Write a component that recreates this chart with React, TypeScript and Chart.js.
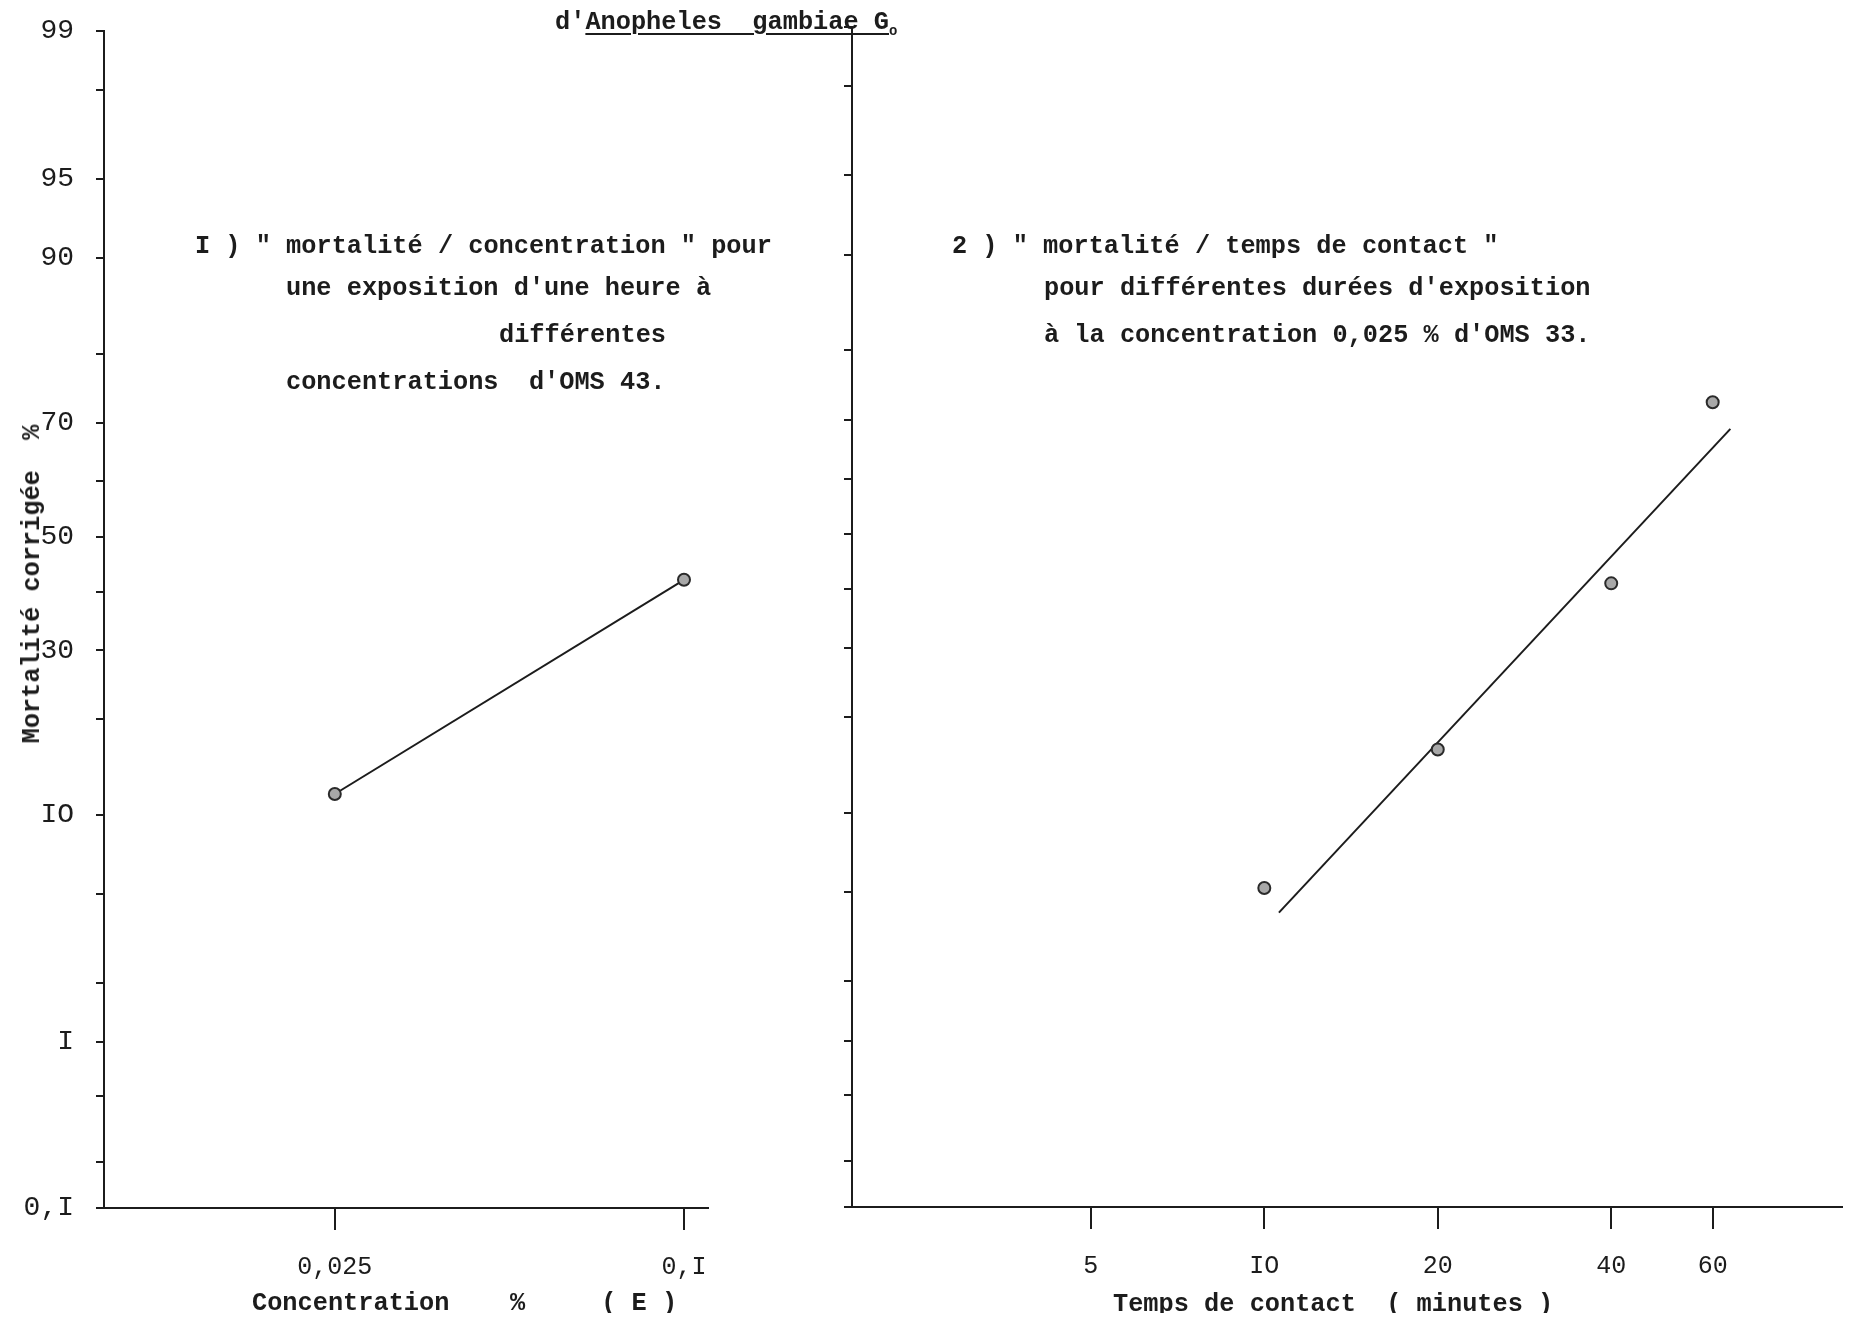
import React, { useEffect, useRef } from 'react';
import { Chart, registerables, LinearScale } from 'chart.js';

Chart.register(...registerables);

// ---------------- data ----------------
const concentrations = [0.025, 0.1];
const mortalityByConcentration = [11.8, 42.1];

const contactTimes = [10, 20, 40, 60];
const mortalityByTime = [5.2, 16.1, 41.0, 72.7];

const fitTimes = [10.6, 64.4];
const fitMortality = [4.1, 68.5];

const probitTickValues = [0.1, 0.2, 0.5, 1, 2, 5, 10, 20, 30, 40, 50, 60, 70, 80, 90, 95, 98, 99];
const probitLabelValues = [0.1, 1, 10, 30, 50, 70, 90, 95, 99];
const probitLabelTexts = ['0,I', 'I', 'IO', '30', '50', '70', '90', '95', '99'];

const concentrationTicks = [0.025, 0.1];
const concentrationTickLabels = ['0,025', '0,I'];

const timeTicks = [5, 10, 20, 40, 60];
const timeTickLabels = ['5', 'IO', '20', '40', '60'];

const pageTitlePrefix = "d'";
const pageTitleUnderlined = 'Anopheles  gambiae G';
const pageTitleSub = 'o';
const leftNote = [
  'I ) " mortalité / concentration " pour',
  "une exposition d'une heure à",
  'différentes',
  "concentrations  d'OMS 43.",
];
const rightNote = [
  '2 ) " mortalité / temps de contact "',
  "pour différentes durées d'exposition",
  "à la concentration 0,025 % d'OMS 33.",
];
const yTitle = 'Mortalité corrigée  %';
const leftXTitle = 'Concentration    %     ( E )';
const rightXTitle = 'Temps de contact  ( minutes )';

// ---------------- probit scale ----------------
function probit(p: number): number {
  const a = [-3.969683028665376e1, 2.209460984245205e2, -2.759285104469687e2, 1.38357751867269e2, -3.066479806614716e1, 2.506628277459239];
  const b = [-5.447609879822406e1, 1.615858368580409e2, -1.556989798598866e2, 6.680131188771972e1, -1.328068155288572e1];
  const c = [-7.784894002430293e-3, -3.223964580411365e-1, -2.400758277161838, -2.549732539343734, 4.374664141464968, 2.938163982698783];
  const d = [7.784695709041462e-3, 3.224671290700398e-1, 2.445134137142996, 3.754408661907416];
  const pl = 0.02425;
  if (p <= 0) return -8;
  if (p >= 1) return 8;
  let q: number, r: number;
  if (p < pl) {
    q = Math.sqrt(-2 * Math.log(p));
    return (((((c[0] * q + c[1]) * q + c[2]) * q + c[3]) * q + c[4]) * q + c[5]) / ((((d[0] * q + d[1]) * q + d[2]) * q + d[3]) * q + 1);
  }
  if (p <= 1 - pl) {
    q = p - 0.5;
    r = q * q;
    return ((((((a[0] * r + a[1]) * r + a[2]) * r + a[3]) * r + a[4]) * r + a[5]) * q) / (((((b[0] * r + b[1]) * r + b[2]) * r + b[3]) * r + b[4]) * r + 1);
  }
  q = Math.sqrt(-2 * Math.log(1 - p));
  return -(((((c[0] * q + c[1]) * q + c[2]) * q + c[3]) * q + c[4]) * q + c[5]) / ((((d[0] * q + d[1]) * q + d[2]) * q + d[3]) * q + 1);
}

function normCdf(z: number): number {
  const x = Math.abs(z) / Math.SQRT2;
  const t = 1 / (1 + 0.3275911 * x);
  const y = 1 - ((((1.061405429 * t - 1.453152027) * t + 1.421413741) * t - 0.284496736) * t + 0.254829592) * t * Math.exp(-x * x);
  return z >= 0 ? 0.5 * (1 + y) : 0.5 * (1 - y);
}

class ProbitScale extends (LinearScale as any) {
  static id = 'probit';
  static defaults = {};
  buildTicks() {
    return probitTickValues.filter((v) => v >= this.min && v <= this.max).map((v) => ({ value: v }));
  }
  configure() {
    super.configure();
    this._pStart = probit(this.min / 100);
    this._pRange = probit(this.max / 100) - this._pStart;
  }
  getPixelForValue(value: number) {
    if (value === null || value === undefined || isNaN(value)) return NaN;
    return this.getPixelForDecimal((probit(value / 100) - this._pStart) / this._pRange);
  }
  getValueForPixel(pixel: number) {
    return 100 * normCdf(this._pStart + this.getDecimalForPixel(pixel) * this._pRange);
  }
}
Chart.register(ProbitScale as any);

// ---------------- styling ----------------
const INK = '#1c1c1c';
const MONO = '"Liberation Mono", "DejaVu Sans Mono", monospace';
Chart.defaults.font.family = MONO;
Chart.defaults.color = INK;

const W = 1835;
const H = 1313;
const LEFT_W = 770;
const RIGHT_W = W - LEFT_W;

const pointStyle = {
  pointRadius: 6,
  pointHoverRadius: 6,
  pointBackgroundColor: '#a8a8a8',
  pointBorderColor: '#2a2a2a',
  pointBorderWidth: 2,
};

function noScalePadding(s: any) {
  s.paddingTop = 0;
  s.paddingBottom = 0;
  s.paddingLeft = 0;
  s.paddingRight = 0;
}

function yAxis(withLabels: boolean, width: number) {
  return {
    type: 'probit',
    position: 'left',
    min: 0.1,
    max: 99,
    afterFit: (s: any) => {
      s.width = width;
      noScalePadding(s);
    },
    ticks: {
      autoSkip: false,
      padding: 22,
      font: { family: MONO, size: 28 },
      color: INK,
      callback: (v: number) => {
        if (!withLabels) return '';
        const i = probitLabelValues.indexOf(v);
        return i >= 0 ? probitLabelTexts[i] : '';
      },
    },
    grid: {
      display: true,
      drawOnChartArea: false,
      drawTicks: true,
      tickLength: 8,
      tickColor: INK,
      tickWidth: 2,
      color: INK,
      lineWidth: 2,
    },
    border: { display: true, color: INK, width: 2 },
  };
}

function xAxis(min: number, max: number, values: number[], labels: string[], height: number) {
  return {
    type: 'logarithmic',
    position: 'bottom',
    min,
    max,
    bounds: 'data',
    afterBuildTicks: (s: any) => {
      s.ticks = values.map((v) => ({ value: v }));
    },
    afterFit: (s: any) => {
      s.height = height;
      noScalePadding(s);
    },
    ticks: {
      autoSkip: false,
      maxRotation: 0,
      minRotation: 0,
      padding: 22,
      font: { family: MONO, size: 25 },
      color: INK,
      callback: (_v: number, i: number) => labels[i],
    },
    grid: {
      display: true,
      drawOnChartArea: false,
      drawTicks: true,
      tickLength: 22,
      tickColor: INK,
      tickWidth: 2,
      color: INK,
      lineWidth: 2,
    },
    border: { display: true, color: INK, width: 2 },
  };
}

function leftConfig(): any {
  return {
    type: 'scatter',
    data: {
      datasets: [
        {
          label: 'mortalité / concentration',
          data: concentrations.map((x, i) => ({ x, y: mortalityByConcentration[i] })),
          showLine: true,
          borderColor: INK,
          borderWidth: 2,
          ...pointStyle,
        },
      ],
    },
    options: {
      responsive: false,
      animation: false,
      events: [],
      layout: { autoPadding: false, padding: { top: 23, right: 70, left: 0, bottom: 0 } },
      plugins: { legend: { display: false }, tooltip: { enabled: false }, title: { display: false } },
      scales: {
        x: xAxis(0.01, 0.11, concentrationTicks, concentrationTickLabels, H - 1200),
        y: yAxis(true, 96),
      },
    },
  };
}

function rightConfig(): any {
  return {
    type: 'scatter',
    data: {
      datasets: [
        {
          label: 'mortalité / temps de contact',
          data: contactTimes.map((x, i) => ({ x, y: mortalityByTime[i] })),
          showLine: false,
          ...pointStyle,
        },
        {
          label: 'droite',
          data: fitTimes.map((x, i) => ({ x, y: fitMortality[i] })),
          showLine: true,
          borderColor: INK,
          borderWidth: 2,
          pointRadius: 0,
        },
      ],
    },
    options: {
      responsive: false,
      animation: false,
      events: [],
      layout: { autoPadding: false, padding: { top: 19, right: 0, left: 0, bottom: 0 } },
      plugins: { legend: { display: false }, tooltip: { enabled: false }, title: { display: false } },
      scales: {
        x: xAxis(1.925, 101, timeTicks, timeTickLabels, H - 1199),
        y: yAxis(false, 74),
      },
    },
  };
}

const textBase: React.CSSProperties = {
  position: 'absolute',
  fontFamily: MONO,
  fontWeight: 'bold',
  fontSize: '25.3px',
  lineHeight: '30px',
  whiteSpace: 'pre',
  color: INK,
  margin: 0,
};

export default function App() {
  const leftRef = useRef<HTMLCanvasElement>(null);
  const rightRef = useRef<HTMLCanvasElement>(null);

  useEffect(() => {
    const c1 = new Chart(leftRef.current as HTMLCanvasElement, leftConfig());
    const c2 = new Chart(rightRef.current as HTMLCanvasElement, rightConfig());
    return () => {
      c1.destroy();
      c2.destroy();
    };
  }, []);

  const leftX = [187, 278, 491, 278];
  const leftY = [224, 266, 313, 360];
  const rightX = [944, 1036, 1036];
  const rightY = [224, 266, 313];

  return (
    <div style={{ position: 'relative', width: W, height: H, marginBottom: -8, background: '#fff', overflow: 'hidden' }}>
      <canvas
        ref={leftRef}
        width={LEFT_W}
        height={H}
        style={{ position: 'absolute', left: 0, top: 0, width: LEFT_W, height: H }}
      />
      <canvas
        ref={rightRef}
        width={RIGHT_W}
        height={H}
        style={{ position: 'absolute', left: LEFT_W, top: 0, width: RIGHT_W, height: H }}
      />
      <div style={{ ...textBase, left: 547, top: 0 }}>
        {pageTitlePrefix}
        <span style={{ textDecoration: 'underline', textDecorationThickness: '2px', textUnderlineOffset: '4px' }}>
          {pageTitleUnderlined}
          <sub style={{ fontSize: '14px' }}>{pageTitleSub}</sub>
        </span>
      </div>
      {leftNote.map((t, i) => (
        <div key={'l' + i} style={{ ...textBase, left: leftX[i], top: leftY[i] }}>
          {t}
        </div>
      ))}
      {rightNote.map((t, i) => (
        <div key={'r' + i} style={{ ...textBase, left: rightX[i], top: rightY[i] }}>
          {t}
        </div>
      ))}
      <div
        style={{
          ...textBase,
          left: 25,
          top: 576,
          transform: 'translate(-50%, -50%) rotate(-90deg)',
        }}
      >
        {yTitle}
      </div>
      <div style={{ ...textBase, lineHeight: '25px', left: 244, top: 1283 }}>{leftXTitle}</div>
      <div style={{ ...textBase, lineHeight: '25px', left: 1105, top: 1284 }}>{rightXTitle}</div>
    </div>
  );
}
